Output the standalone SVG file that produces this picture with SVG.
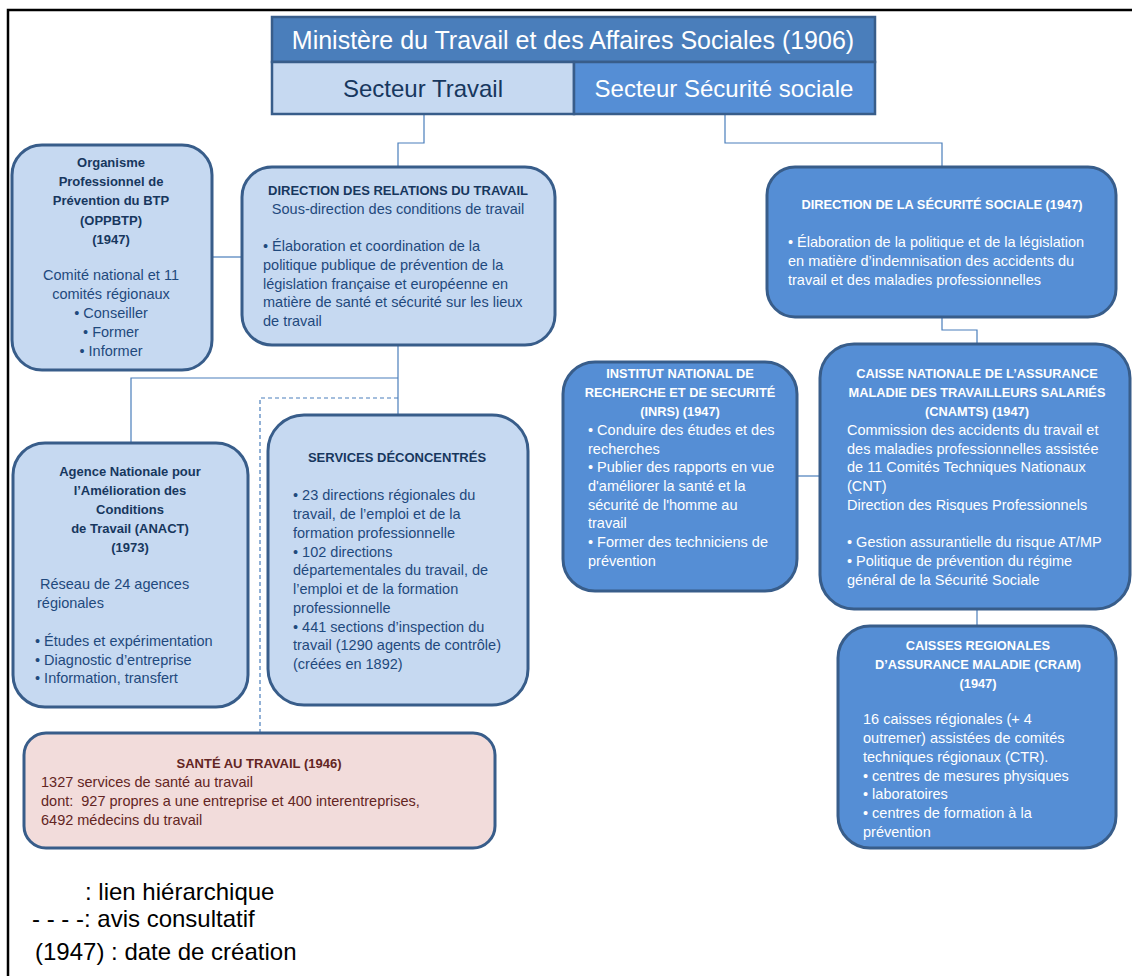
<svg xmlns="http://www.w3.org/2000/svg" width="1132" height="976" viewBox="0 0 1132 976">
<style>
text{font-family:"Liberation Sans",Arial,sans-serif}
.lb{fill:#C6D9F1;stroke:#385D8A;stroke-width:3}
.db{fill:#558ED5;stroke:#385D8A;stroke-width:3}
.pb{fill:#F2DCDB;stroke:#385D8A;stroke-width:3}
.tb{font-size:13px;font-weight:bold;fill:#17375E;text-anchor:middle}
.tn{font-size:14.5px;fill:#1F497D}
.tc{font-size:14.5px;fill:#1F497D;text-anchor:middle}
.wb{font-size:12.8px;font-weight:bold;fill:#FFFFFF;text-anchor:middle}
.wn{font-size:14.5px;fill:#FFFFFF}
.rb{font-size:13px;font-weight:bold;fill:#632523;text-anchor:middle}
.rn{font-size:14.5px;fill:#632523}
.lg{font-size:24px;fill:#000000}
.cn{fill:none;stroke:#4A7EBB;stroke-width:1.2}
.dash{fill:none;stroke:#4A7EBB;stroke-width:1.2;stroke-dasharray:4 3}
</style>
<rect x="0" y="0" width="1132" height="976" fill="#FFFFFF"/>
<rect x="8" y="10" width="1200" height="1100" fill="none" stroke="#000000" stroke-width="2.5"/>

<g id="connectors">
<path class="cn" d="M424 114 V143 H398 V167"/>
<path class="cn" d="M725 114 V143 H942 V167"/>
<path class="cn" d="M212 257 H242"/>
<path class="cn" d="M398 345 V415"/>
<path class="cn" d="M131 443 V378 H398"/>
<path class="dash" d="M398 398 H260 V733"/>
<path class="cn" d="M942 317 V330 H977 V344"/>
<path class="cn" d="M797 476 H820"/>
<path class="cn" d="M977 609 V626"/>
</g>

<g id="ministere">
<rect x="272" y="17" width="603" height="45" fill="#4A7EBB" stroke="#385D8A" stroke-width="2.5"/>
<text x="573" y="49" font-size="25" fill="#FFFFFF" text-anchor="middle">Ministère du Travail et des Affaires Sociales (1906)</text>
</g>
<g id="secteur-travail">
<rect x="272" y="62" width="302" height="52" fill="#C6D9F1" stroke="#385D8A" stroke-width="2.5"/>
<text x="423" y="97" font-size="24" fill="#17375E" text-anchor="middle">Secteur Travail</text>
</g>
<g id="secteur-securite">
<rect x="574" y="62" width="301" height="52" fill="#558ED5" stroke="#385D8A" stroke-width="2.5"/>
<text x="724" y="97" font-size="24" fill="#FFFFFF" text-anchor="middle">Secteur Sécurité sociale</text>
</g>

<g id="oppbtp">
<rect class="lb" x="12" y="145" width="200" height="225" rx="30"/>
<text class="tb" x="111" y="167">Organisme</text>
<text class="tb" x="111" y="186">Professionnel de</text>
<text class="tb" x="111" y="205">Prévention du BTP</text>
<text class="tb" x="111" y="225">(OPPBTP)</text>
<text class="tb" x="111" y="244">(1947)</text>
<text class="tc" x="111" y="280">Comité national et 11</text>
<text class="tc" x="111" y="299">comités régionaux</text>
<text class="tc" x="111" y="318">• Conseiller</text>
<text class="tc" x="111" y="337">• Former</text>
<text class="tc" x="111" y="356">• Informer</text>
</g>

<g id="drt">
<rect class="lb" x="242" y="167" width="313" height="178" rx="30"/>
<text class="tb" x="398" y="195">DIRECTION DES RELATIONS DU TRAVAIL</text>
<text class="tc" x="398" y="214">Sous-direction des conditions de travail</text>
<text class="tn" x="263" y="251">• Élaboration et coordination de la</text>
<text class="tn" x="263" y="270">politique publique de prévention de la</text>
<text class="tn" x="263" y="289">législation française et européenne en</text>
<text class="tn" x="263" y="307">matière de santé et sécurité sur les lieux</text>
<text class="tn" x="263" y="326">de travail</text>
</g>

<g id="dss">
<rect class="db" x="767" y="167" width="349" height="150" rx="28"/>
<text class="wb" x="942" y="209">DIRECTION DE LA SÉCURITÉ SOCIALE (1947)</text>
<text class="wn" x="788" y="247">• Élaboration de la politique et de la législation</text>
<text class="wn" x="788" y="266">en matière d’indemnisation des accidents du</text>
<text class="wn" x="788" y="285">travail et des maladies professionnelles</text>
</g>

<g id="inrs">
<rect class="db" x="563" y="362" width="234" height="229" rx="32"/>
<text class="wb" x="680" y="378">INSTITUT NATIONAL DE</text>
<text class="wb" x="680" y="397">RECHERCHE ET DE SECURITÉ</text>
<text class="wb" x="680" y="416">(INRS) (1947)</text>
<text class="wn" x="588" y="435">• Conduire des études et des</text>
<text class="wn" x="588" y="454">recherches</text>
<text class="wn" x="588" y="472">• Publier des rapports en vue</text>
<text class="wn" x="588" y="491">d'améliorer la santé et la</text>
<text class="wn" x="588" y="510">sécurité de l'homme au</text>
<text class="wn" x="588" y="528">travail</text>
<text class="wn" x="588" y="547">• Former des techniciens de</text>
<text class="wn" x="588" y="566">prévention</text>
</g>

<g id="cnamts">
<rect class="db" x="820" y="344" width="310" height="265" rx="34"/>
<text class="wb" x="977" y="378">CAISSE NATIONALE DE L’ASSURANCE</text>
<text class="wb" x="977" y="397">MALADIE DES TRAVAILLEURS SALARIÉS</text>
<text class="wb" x="977" y="416">(CNAMTS) (1947)</text>
<text class="wn" x="847" y="435">Commission des accidents du travail et</text>
<text class="wn" x="847" y="454">des maladies professionnelles assistée</text>
<text class="wn" x="847" y="472">de 11 Comités Techniques Nationaux</text>
<text class="wn" x="847" y="491">(CNT)</text>
<text class="wn" x="847" y="510">Direction des Risques Professionnels</text>
<text class="wn" x="847" y="547">• Gestion assurantielle du risque AT/MP</text>
<text class="wn" x="847" y="566">• Politique de prévention du régime</text>
<text class="wn" x="847" y="585">général de la Sécurité Sociale</text>
</g>

<g id="cram">
<rect class="db" x="838" y="626" width="278" height="222" rx="32"/>
<text class="wb" x="978" y="650">CAISSES REGIONALES</text>
<text class="wb" x="978" y="669">D’ASSURANCE MALADIE (CRAM)</text>
<text class="wb" x="978" y="688">(1947)</text>
<text class="wn" x="863" y="724">16 caisses régionales (+ 4</text>
<text class="wn" x="863" y="743">outremer) assistées de comités</text>
<text class="wn" x="863" y="762">techniques régionaux (CTR).</text>
<text class="wn" x="863" y="781">• centres de mesures physiques</text>
<text class="wn" x="863" y="799">• laboratoires</text>
<text class="wn" x="863" y="818">• centres de formation à la</text>
<text class="wn" x="863" y="837">prévention</text>
</g>

<g id="anact">
<rect class="lb" x="13" y="443" width="235" height="264" rx="32"/>
<text class="tb" x="130" y="476">Agence Nationale pour</text>
<text class="tb" x="130" y="495">l’Amélioration des</text>
<text class="tb" x="130" y="514">Conditions</text>
<text class="tb" x="130" y="533">de Travail (ANACT)</text>
<text class="tb" x="130" y="552">(1973)</text>
<text class="tn" x="40" y="589">Réseau de 24 agences</text>
<text class="tn" x="37" y="608">régionales</text>
<text class="tn" x="35" y="646">• Études et expérimentation</text>
<text class="tn" x="35" y="665">• Diagnostic d’entreprise</text>
<text class="tn" x="35" y="683">• Information, transfert</text>
</g>

<g id="services">
<rect class="lb" x="268" y="415" width="260" height="290" rx="36"/>
<text class="tb" x="397" y="462">SERVICES DÉCONCENTRÉS</text>
<text class="tn" x="293" y="500">• 23 directions régionales du</text>
<text class="tn" x="293" y="519">travail, de l’emploi et de la</text>
<text class="tn" x="293" y="538">formation professionnelle</text>
<text class="tn" x="293" y="557">• 102 directions</text>
<text class="tn" x="293" y="575">départementales du travail, de</text>
<text class="tn" x="293" y="594">l’emploi et de la formation</text>
<text class="tn" x="293" y="613">professionnelle</text>
<text class="tn" x="293" y="632">• 441 sections d’inspection du</text>
<text class="tn" x="293" y="650">travail (1290 agents de contrôle)</text>
<text class="tn" x="293" y="669">(créées en 1892)</text>
</g>

<g id="sante">
<rect class="pb" x="24" y="733" width="471" height="115" rx="22"/>
<text class="rb" x="259" y="768">SANTÉ AU TRAVAIL (1946)</text>
<text class="rn" x="41" y="787">1327 services de santé au travail</text>
<text class="rn" x="41" y="806" xml:space="preserve">dont:  927 propres a une entreprise et 400 interentreprises,</text>
<text class="rn" x="41" y="825">6492 médecins du travail</text>
</g>

<g id="legend">
<text class="lg" x="85" y="900">: lien hiérarchique</text>
<text class="lg" x="32" y="927">- - - -: avis consultatif</text>
<text class="lg" x="35" y="960">(1947) : date de création</text>
</g>
</svg>
